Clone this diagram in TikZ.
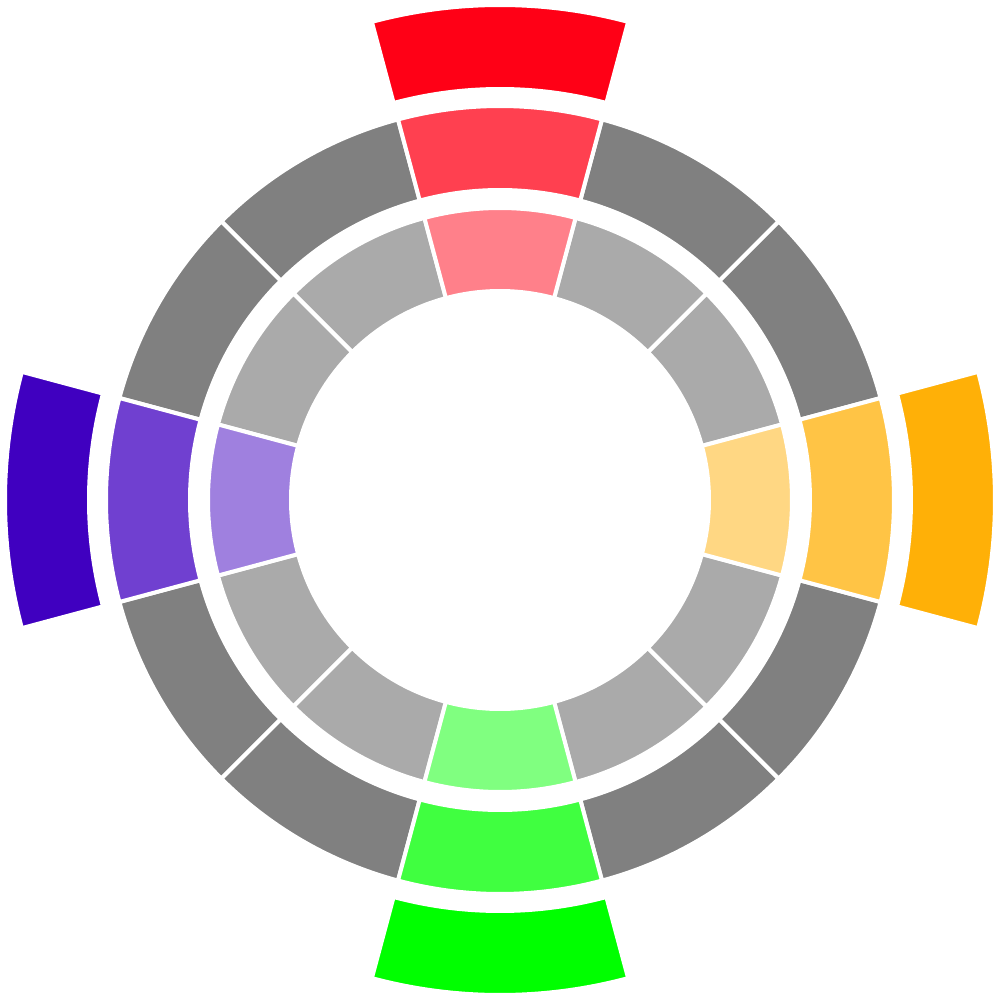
\documentclass[tikz,border=0pt]{standalone}
\usepackage{tikz}
\usepackage{xcolor}

\definecolor{wheelred}{RGB}{255,0,22}
\definecolor{wheelorange}{RGB}{255,176,7}
\definecolor{wheelgreen}{RGB}{0,255,0}
\definecolor{wheelviolet}{RGB}{64,0,192}
\definecolor{wheelgray}{RGB}{128,128,128}

\begin{document}
\begin{tikzpicture}[
			seg/.style={draw=white, line width=0.04cm, line join=miter},
			]
			\useasboundingbox (-5,-5.01) rectangle (5.01,5);
			
			% ── Inner ring ───────────────────────────────────────────────────
			\foreach \a in {30,60,120,150,210,240,300,330}
			\fill[seg, fill=wheelgray!67!white] (\a-15:2.09) arc[start angle=\a-15, end angle=\a+15, radius=2.09]
			-- (\a+15:2.92) arc[start angle=\a+15, end angle=\a-15, radius=2.92] -- cycle;
			\foreach \a/\c in {90/wheelred, 0/wheelorange, 270/wheelgreen, 180/wheelviolet}
			\fill[seg, fill=\c!50!white] (\a-15:2.09) arc[start angle=\a-15, end angle=\a+15, radius=2.09]
			-- (\a+15:2.92) arc[start angle=\a+15, end angle=\a-15, radius=2.92] -- cycle;
			
			% ── Middle ring ──────────────────────────────────────────────────
			\foreach \a in {30,60,120,150,210,240,300,330}
			\fill[seg, fill=wheelgray] (\a-15:3.10) arc[start angle=\a-15, end angle=\a+15, radius=3.10]
			-- (\a+15:3.94) arc[start angle=\a+15, end angle=\a-15, radius=3.94] -- cycle;
			\foreach \a/\c in {90/wheelred, 0/wheelorange, 270/wheelgreen, 180/wheelviolet}
			\fill[seg, fill=\c!75!white] (\a-15:3.10) arc[start angle=\a-15, end angle=\a+15, radius=3.10]
			-- (\a+15:3.94) arc[start angle=\a+15, end angle=\a-15, radius=3.94] -- cycle;
			
			% ── Outer ring ───────────────────────────────────────────────────
			\foreach \a/\c in {90/wheelred, 0/wheelorange, 270/wheelgreen, 180/wheelviolet}
			\fill[seg, fill=\c] (\a-15:4.11) arc[start angle=\a-15, end angle=\a+15, radius=4.11]
			-- (\a+15:4.95) arc[start angle=\a+15, end angle=\a-15, radius=4.95] -- cycle;
			
		\end{tikzpicture}
\end{document}
